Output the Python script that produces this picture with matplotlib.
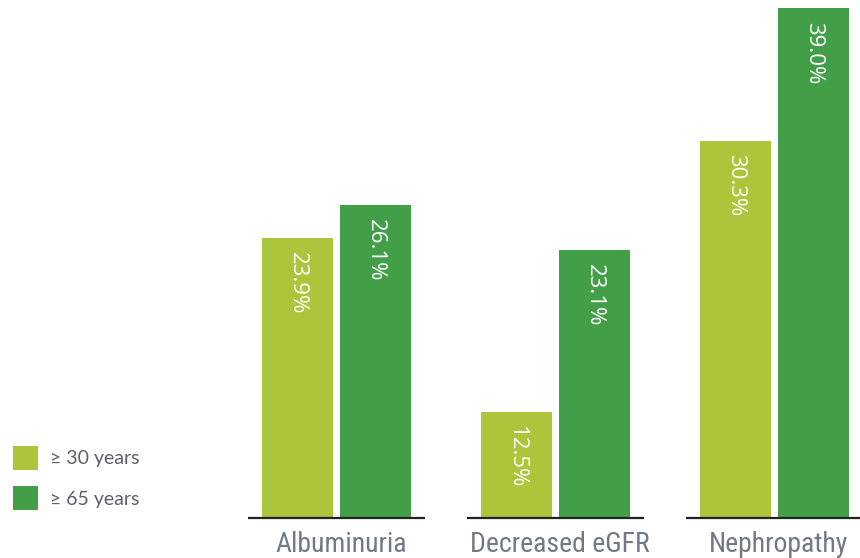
import matplotlib
matplotlib.use('Agg')
import matplotlib.pyplot as plt
from matplotlib import font_manager
import numpy as np

#--- Data
categories = ['Albuminuria', 'Decreased eGFR', 'Nephropathy']
series_names = ['\u2265 30 years', '\u2265 65 years']
age30 = [23.9, 12.5, 30.3]
age65 = [26.1, 23.1, 39.0]

light_green = '#adc53a'
dark_green = '#439f47'
label_color = '#707a86'
legend_text_color = '#5a5f6e'


def pick_font(candidates):
	names = set(f.name for f in font_manager.fontManager.ttflist)
	for c in candidates:
		if c in names:
			return c
	return 'DejaVu Sans'


def main():
	cond_font = pick_font(['Liberation Sans Narrow', 'DejaVu Sans Condensed', 'Roboto Condensed', 'Open Sans Condensed', 'Lato'])
	value_font = pick_font(['Open Sans', 'Noto Sans', 'DejaVu Sans'])
	legend_font = pick_font(['Lato', 'Open Sans', 'DejaVu Sans'])

	fig = plt.figure(figsize = (8.6, 5.58), dpi = 100)
	ax = fig.add_axes([249 / 860, 1 - 518 / 558, 611 / 860, 518 / 558])

	x = np.arange(len(categories))
	w = 0.324
	gap = 0.032
	off = (w + gap) / 2

	b1 = ax.bar(x - off, age30, width = w, color = light_green, label = series_names[0])
	b2 = ax.bar(x + off, age65, width = w, color = dark_green, label = series_names[1])

	ax.set_ylim(5.57, 39.51)
	ax.set_xlim(-0.40, 2.39)

	#--- Value labels, rotated, inside the bars
	for bars, vals in [(b1, age30), (b2, age65)]:
		for rect, v in zip(bars, vals):
			ax.annotate('%.1f%%' % v, xy = (rect.get_x() + rect.get_width() / 2, v),
				xytext = (0, -10), textcoords = 'offset points', rotation = -90,
				ha = 'center', va = 'top', color = 'white', fontsize = 16, family = value_font)

	#--- Baseline segment under each group
	ax.hlines([5.57] * len(x), x - 0.405, x + 0.405, colors = '#222222', linewidth = 1.6, clip_on = False)

	for s in ax.spines.values():
		s.set_visible(False)
	ax.set_yticks([])
	ax.set_xticks(x + 0.02)
	ax.set_xticklabels(categories, fontsize = 20, color = label_color, family = cond_font)
	ax.tick_params(axis = 'x', length = 0, pad = 9)

	#--- Legend
	fs = 14
	fig.legend(handles = [b1, b2], labels = series_names, loc = 'upper left',
		bbox_to_anchor = (13 / 860, 1 - 446 / 558), frameon = False, borderpad = 0, borderaxespad = 0,
		handlelength = 1.3, handleheight = 1.5, handletextpad = 0.6, labelspacing = 0.85,
		prop = {'family': legend_font, 'size': fs}, labelcolor = legend_text_color)

	fig.savefig('out.png', dpi = 100)
	plt.close()


if __name__ == "__main__":
	main()
